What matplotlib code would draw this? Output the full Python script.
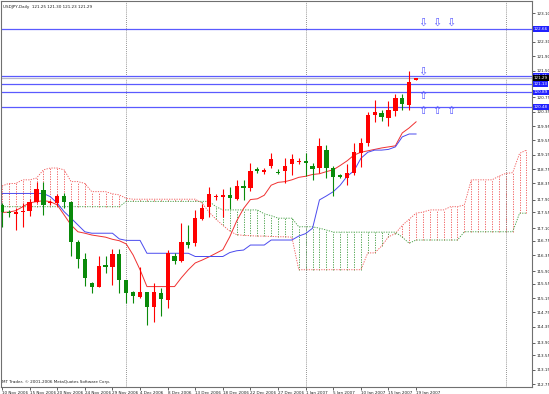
import numpy as np
import matplotlib
matplotlib.use('Agg')
import matplotlib.pyplot as plt
from matplotlib.transforms import blended_transform_factory

# USDJPY daily bars, 10 Nov 2006 .. 19 Jan 2007 (broker has sunday bars)
opens = [117.75, 117.55, 117.50, 117.55, 117.58, 117.84, 118.17, 117.80, 117.80, 118.01,
         117.82, 116.72, 116.23, 115.56, 115.47, 116.07, 116.03, 116.38, 115.64, 115.33,
         115.19, 115.31, 114.91, 115.30, 115.10, 116.33, 116.19, 116.72, 116.68, 117.35,
         117.70, 117.96, 117.98, 118.02, 117.92, 118.28, 118.22, 118.75, 118.67, 118.84,
         118.68, 118.70, 118.88, 118.96, 118.98, 118.84, 118.78, 119.28, 118.77, 118.59,
         118.50, 118.64, 119.19, 119.47, 120.26, 120.31, 120.17, 120.37, 120.73, 120.54,
         121.25]
highs = [117.80, 117.60, 117.66, 117.80, 117.92, 118.40, 118.40, 117.90, 118.06, 118.08,
         117.85, 116.77, 116.40, 115.60, 116.32, 116.32, 116.52, 116.52, 115.66, 115.35,
         116.03, 115.33, 115.56, 115.42, 116.50, 116.42, 117.24, 117.20, 117.61, 117.77,
         118.26, 118.05, 118.20, 118.25, 118.45, 118.45, 118.92, 118.80, 118.78, 119.20,
         118.75, 119.05, 119.18, 119.05, 119.20, 118.92, 119.61, 119.42, 118.85, 118.62,
         118.90, 119.49, 119.61, 120.35, 120.68, 120.39, 120.65, 120.85, 120.84, 121.50,
         121.30]
lows = [117.14, 117.40, 117.05, 117.14, 117.45, 117.80, 117.47, 117.75, 117.72, 117.66,
        116.31, 115.98, 115.50, 115.30, 115.45, 115.85, 115.52, 115.30, 115.00, 115.00,
        115.14, 114.40, 114.49, 114.65, 114.87, 116.10, 116.15, 116.55, 116.60, 117.33,
        117.42, 117.90, 117.42, 117.65, 117.88, 117.90, 118.15, 118.65, 118.60, 118.78,
        118.60, 118.35, 118.58, 118.90, 118.55, 118.45, 118.63, 118.49, 118.00, 118.50,
        118.30, 118.59, 118.80, 119.40, 120.07, 120.10, 119.95, 120.22, 120.40, 120.40,
        121.23]
closes = [117.56, 117.52, 117.56, 117.57, 117.84, 118.19, 117.75, 117.83, 118.00, 117.84,
          116.72, 116.23, 115.72, 115.47, 116.05, 116.02, 116.38, 115.64, 115.30, 115.21,
          115.33, 114.91, 115.31, 115.12, 116.40, 116.19, 116.72, 116.63, 117.38, 117.66,
          118.05, 118.00, 118.02, 117.95, 118.28, 118.22, 118.70, 118.69, 118.73, 119.03,
          118.65, 118.84, 119.02, 118.99, 118.93, 118.75, 119.40, 118.77, 118.54, 118.52,
          118.64, 119.24, 119.47, 120.26, 120.35, 120.20, 120.40, 120.73, 120.56, 121.19,
          121.29]

# ichimoku lines
tenkan = [117.54, 117.55, 117.59, 117.70, 117.81, 117.84, 117.87, 117.84, 117.75, 117.47,
          117.19, 117.00, 116.96, 116.91, 116.88, 116.85, 116.79, 116.75, 116.66, 116.35,
          115.94, 115.47, 115.47, 115.47, 115.47, 115.47, 115.72, 115.94, 116.13, 116.21,
          116.30, 116.40, 116.50, 116.86, 117.30, 117.65, 117.90, 117.92, 118.02, 118.30,
          118.38, 118.40, 118.45, 118.52, 118.55, 118.60, 118.62, 118.68, 118.73, 118.85,
          118.98, 119.14, 119.22, 119.26, 119.30, 119.34, 119.37, 119.40, 119.76, 119.90,
          120.07]
kijun = [118.07, 118.07, 118.07, 118.07, 118.07, 118.07, 118.07, 117.98, 117.80, 117.56,
         117.38, 117.19, 117.00, 116.96, 116.96, 116.96, 116.96, 116.80, 116.76, 116.76,
         116.76, 116.40, 116.40, 116.40, 116.40, 116.40, 116.40, 116.40, 116.31, 116.31,
         116.31, 116.31, 116.31, 116.42, 116.47, 116.49, 116.63, 116.63, 116.63, 116.77,
         116.77, 116.77, 116.77, 116.88, 116.95, 117.10, 117.89, 118.00, 118.12, 118.30,
         118.55, 118.70, 119.05, 119.22, 119.28, 119.28, 119.30, 119.37, 119.65, 119.73,
         119.73]
# senkou spans, already shifted forward (77 bars incl. future)
span_a = [118.28, 118.35, 118.35, 118.45, 118.45, 118.50, 118.73, 118.78, 118.78, 118.73,
          118.40, 118.40, 118.35, 118.12, 118.12, 118.12, 118.06, 118.03, 117.93, 117.91,
          117.91, 117.91, 117.91, 117.91, 117.91, 117.91, 117.91, 117.91, 117.91, 117.80,
          117.55, 117.35, 117.18, 117.02, 116.92, 116.90, 116.89, 116.88, 116.88, 116.87,
          116.86, 116.86, 116.85, 115.94, 115.94, 115.94, 115.94, 115.94, 115.94, 115.94,
          115.94, 115.94, 115.94, 116.41, 116.41, 116.60, 116.86, 116.95, 117.18, 117.35,
          117.52, 117.55, 117.61, 117.61, 117.61, 117.70, 117.70, 117.75, 118.45, 118.45,
          118.45, 118.45, 118.55, 118.63, 118.65, 119.19, 119.28]
span_b = [117.70] * 18 + [117.85] * 13 + [117.70] + [117.61] * 6 + [117.50, 117.45] \
    + [117.38] * 3 + [117.14] * 3 + [117.10, 117.05] + [116.99] * 10 + [116.85, 116.68] \
    + [116.77] * 7 + [117.00] * 8 + [117.52] * 2

date_labels = ['10 Nov 2006', '15 Nov 2006', '20 Nov 2006', '24 Nov 2006', '29 Nov 2006',
               '4 Dec 2006', '8 Dec 2006', '13 Dec 2006', '18 Dec 2006', '22 Dec 2006',
               '27 Dec 2006', '1 Jan 2007', '5 Jan 2007', '10 Jan 2007', '15 Jan 2007',
               '19 Jan 2007']
price_ticks = [112.75, 113.15, 113.55, 113.90, 114.35, 114.75, 115.15, 115.55, 115.90,
               116.35, 116.75, 117.10, 117.55, 117.90, 118.35, 118.75, 119.15, 119.55,
               119.95, 120.35, 120.75, 121.10, 121.50, 121.90, 122.30, 122.70, 123.10]
# these two labels sit under the price boxes in the original
hidden_ticks = [121.10, 122.70]

hline_levels = [122.66, 121.35, 121.13, 120.89, 120.48]
bid_level = 121.29
separators = [18, 44, 73]

arrow_x = [61, 63, 65, 61, 61, 61, 63, 65]
arrow_y = [122.83, 122.83, 122.83, 121.46, 120.79, 120.37, 120.37, 120.37]
arrow_up = [False, False, False, False, True, True, True, True]

RED = '#ff0000'
GREEN = '#0a8a0a'
LINE_BLUE = '#5a5aff'
FS = 3.0

fig = plt.figure(figsize=(5.49, 3.94), dpi=100)
ax = fig.add_axes([1 / 549, 7.3 / 394, 531 / 549, 385.7 / 394])
ax.set_xlim(-0.15, 76.8)
ax.set_ylim(112.675, 123.443)

# kumo: vertical dotted hatch per bar + the two span lines
xs = np.arange(len(span_a))
sa = np.array(span_a)
sb = np.array(span_b)
up = sa >= sb
dot = (0, (1.5, 1.5))
ax.vlines(xs[up], sb[up], sa[up], colors='#f05050', linestyles=dot, lw=0.6, zorder=1)
ax.vlines(xs[~up], sa[~up], sb[~up], colors='#3a9a3a', linestyles=dot, lw=0.6, zorder=1)
ax.plot(xs, sa, color='#f05050', ls=dot, lw=0.6, zorder=1)
ax.plot(xs, sb, color='#3a9a3a', ls=dot, lw=0.6, zorder=1)

# separators
for s in separators:
    ax.axvline(s, color='#707070', ls=(0, (1, 1.5)), lw=0.6, zorder=1)

# tenkan / kijun
bx = np.arange(len(opens))
ax.plot(bx, tenkan, color='#f03030', lw=0.7, zorder=2)
ax.plot(bx, kijun, color='#4a4aee', lw=0.7, zorder=2)

# candles (red = up, green = down)
o = np.array(opens)
c = np.array(closes)
cols = [RED if cc >= oo else GREEN for oo, cc in zip(o, c)]
ax.vlines(bx, lows, highs, colors=cols, lw=0.8, zorder=3)
body_h = np.maximum(np.abs(c - o), 0.03)
ax.bar(bx, body_h, bottom=np.minimum(o, c), width=0.62, color=cols, lw=0, zorder=4)

# horizontal levels
for lv in hline_levels:
    ax.axhline(lv, color=LINE_BLUE, lw=0.9, zorder=2)
ax.axhline(bid_level, color='#b8b8cc', lw=0.9, zorder=2)

# arrows
for x, y, u in zip(arrow_x, arrow_y, arrow_up):
    ax.text(x, y, '\u21e7' if u else '\u21e9', fontsize=8, color=LINE_BLUE,
            ha='center', va='center', zorder=5)

# axes look
for sp in ax.spines.values():
    sp.set_color('#707070')
    sp.set_linewidth(0.8)
ax.yaxis.tick_right()
ax.set_yticks(price_ticks)
ax.set_yticklabels(['' if v in hidden_ticks else f'{v:.2f}' for v in price_ticks], fontsize=FS)
ax.set_xticks(np.arange(0, 61, 4))
ax.set_xticklabels(date_labels, fontsize=FS, ha='left')
ax.tick_params(axis='both', length=2, width=0.5, pad=1, colors='#202020')

# price boxes on the right scale
tr = blended_transform_factory(ax.transAxes, ax.transData)
for lv in hline_levels:
    ax.text(1.003, lv, f'{lv:.2f}', transform=tr, fontsize=FS, color='white',
            ha='left', va='center', clip_on=False, zorder=6,
            bbox=dict(boxstyle='square,pad=0.2', fc='#2020ff', ec='none'))
ax.text(1.003, bid_level, f'{bid_level:.2f}', transform=tr, fontsize=FS, color='white',
        ha='left', va='center', clip_on=False, zorder=7,
        bbox=dict(boxstyle='square,pad=0.2', fc='#000000', ec='none'))

ax.text(0.004, 0.99, 'USDJPY,Daily  121.25 121.30 121.23 121.29', transform=ax.transAxes,
        fontsize=FS, ha='left', va='top', color='#202020')
ax.text(0.002, 0.008, 'MT Trader, \u00a9 2001-2006 MetaQuotes Software Corp.',
        transform=ax.transAxes, fontsize=FS, ha='left', va='bottom', color='#202020')

fig.savefig('out.png', dpi=100)
